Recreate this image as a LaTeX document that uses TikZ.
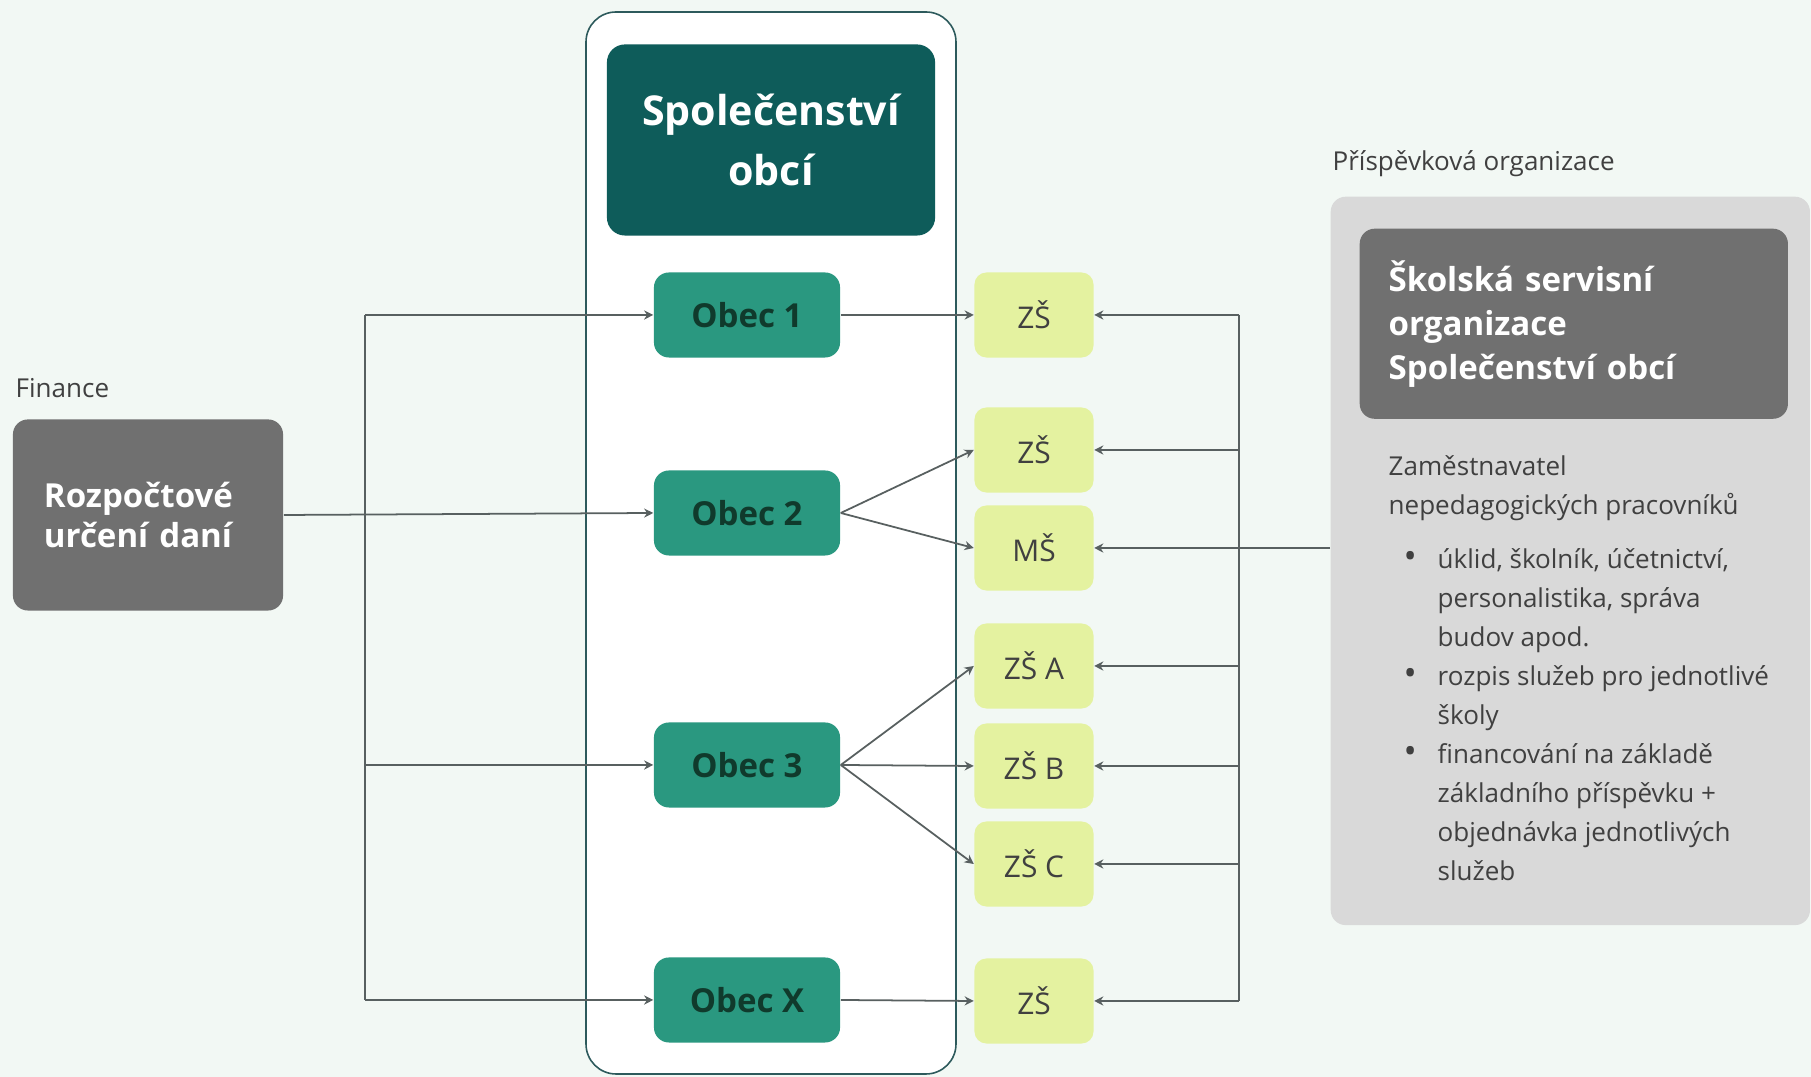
\documentclass[tikz,border=0pt]{standalone}
\usepackage{fontspec}
\setmainfont{Open Sans}
\usetikzlibrary{arrows.meta}
\definecolor{pozadi}{RGB}{242,248,244}
\definecolor{ramec}{RGB}{45,90,92}
\definecolor{tmavazel}{RGB}{14,92,90}
\definecolor{obeczel}{RGB}{42,152,128}
\definecolor{obectext}{RGB}{16,58,44}
\definecolor{skolazel}{RGB}{228,242,160}
\definecolor{seda}{RGB}{112,112,112}
\definecolor{svetleseda}{RGB}{217,217,217}
\definecolor{textseda}{RGB}{64,64,64}
\definecolor{cara}{RGB}{88,96,96}
\newcommand{\odrazka}{\makebox[0.49cm][l]{\hspace{0.15cm}\scalebox{1.35}{\textbullet}}}
\newcommand{\pokracuj}{\hspace{0.49cm}}

\begin{document}
\begin{tikzpicture}[x=0.01cm,y=-0.01cm,
    obec/.style={fill=obeczel,rounded corners=0.15cm,minimum width=1.86cm,minimum height=0.85cm,text=obectext,font=\fontsize{9.4}{11}\selectfont\bfseries},
    skola/.style={fill=skolazel,rounded corners=0.12cm,minimum width=1.19cm,minimum height=0.85cm,text=textseda,font=\fontsize{8.5}{10}\selectfont},
    popisek/.style={anchor=west,inner sep=0pt,text=textseda,font=\fontsize{7.4}{11.1}\selectfont},
    cara/.style={draw=cara,line width=0.5pt},
    spoj/.style={cara,-{Stealth[length=2.6pt,width=2.6pt]}}]
    \fill[pozadi] (0,0) rectangle (1811,1077);
    \useasboundingbox (0,0) rectangle (1811,1077);
    % obce
    \filldraw[fill=white,draw=ramec,line width=0.45pt,rounded corners=0.3cm] (586,12) rectangle (956,1074);
    \node[fill=tmavazel,rounded corners=0.18cm,minimum width=3.28cm,minimum height=1.91cm,text=white,align=center,font=\fontsize{11.7}{17.1}\selectfont\bfseries] (spol) at (771,140) {Společenství\\obcí};
    \node[obec] (obec1) at (747,315) {Obec 1};
    \node[obec] (obec2) at (747,513) {Obec 2};
    \node[obec] (obec3) at (747,765) {Obec 3};
    \node[obec] (obecx) at (747,1000) {Obec X};
    % skoly
    \node[skola] (zs1) at (1034,315) {ZŠ};
    \node[skola] (zs2) at (1034,450) {ZŠ};
    \node[skola] (ms2) at (1034,548) {MŠ};
    \node[skola] (zs3a) at (1034,666) {ZŠ A};
    \node[skola] (zs3b) at (1034,766) {ZŠ B};
    \node[skola] (zs3c) at (1034,864) {ZŠ C};
    \node[skola] (zsx) at (1034,1001) {ZŠ};
    % financni tok
    \node[popisek] (fin) at (15,388) {Finance};
    \node[fill=seda,rounded corners=0.15cm,minimum width=2.70cm,minimum height=1.91cm,inner xsep=0.31cm,text width=2.08cm,text=white,align=left,font=\fontsize{9.4}{11.1}\selectfont\bfseries] (rud) at (148,515) {Rozpočtové\\určení daní};
    % servisni organizace
    \node[popisek] (po) at (1332,164) {Příspěvková organizace};
    \node[fill=svetleseda,rounded corners=0.15cm,anchor=north west,minimum width=4.79cm,minimum height=7.28cm] (ssobg) at (1330,196) {};
    \node[fill=seda,rounded corners=0.15cm,anchor=north west,minimum width=4.28cm,minimum height=1.90cm,inner xsep=0.29cm,text width=3.70cm,align=left,text=white,font=\fontsize{9.4}{12.5}\selectfont\bfseries] (sso) at (1359,228) {Školská servisní\\organizace\\Společenství obcí};
    \node[popisek,anchor=north west] (popis) at (1388,447) {%
      \begin{tabular}{@{}l@{}}
        Zaměstnavatel\\
        nepedagogických pracovníků\\[0.15cm]
        \odrazka úklid, školník, účetnictví,\\
        \pokracuj personalistika, správa\\
        \pokracuj budov apod.\\
        \odrazka rozpis služeb pro jednotlivé\\
        \pokracuj školy\\
        \odrazka financování na základě\\
        \pokracuj základního příspěvku +\\
        \pokracuj objednávka jednotlivých\\
        \pokracuj služeb
      \end{tabular}};
    \coordinate (busL) at (365,0);
    \coordinate (busR) at (1239,0);
    % spoje vlevo
    \draw[spoj] (rud.east) -- (obec2.west);
    \draw[cara] (busL |- obec1.west) -- (busL |- obecx.west);
    \foreach \o in {obec1,obec3,obecx}
      \draw[spoj] (busL |- \o.west) -- (\o.west);
    % spoje obec - skola
    \draw[spoj] (obec1.east) -- (zs1.west);
    \foreach \s in {zs2,ms2}
      \draw[spoj] (obec2.east) -- (\s.west);
    \foreach \s in {zs3a,zs3b,zs3c}
      \draw[spoj] (obec3.east) -- (\s.west);
    \draw[spoj] (obecx.east) -- (zsx.west);
    % spoje vpravo
    \draw[cara] (busR |- zs1.east) -- (busR |- zsx.east);
    \foreach \s in {zs1,zs2,zs3a,zs3b,zs3c,zsx}
      \draw[spoj] (busR |- \s.east) -- (\s.east);
    \draw[spoj] (ssobg.west |- ms2.east) -- (ms2.east);
\end{tikzpicture}
\end{document}
